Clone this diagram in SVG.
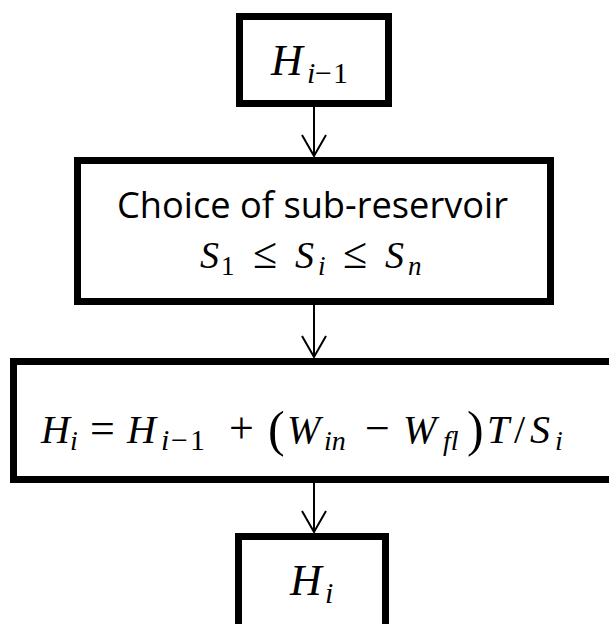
<svg xmlns="http://www.w3.org/2000/svg" width="609" height="624" viewBox="0 0 609 624">
<style>
.box{fill:#fff;stroke:#000;stroke-width:7}
.math{font-family:"Liberation Serif","DejaVu Serif",serif;font-style:italic;fill:#000}
.up{font-style:normal}
.lbl{font-family:"Open Sans","Liberation Sans",sans-serif;fill:#000}
.conn{stroke:#000;stroke-width:2;fill:none}
</style>
<defs>
<marker id="vee" markerUnits="userSpaceOnUse" markerWidth="28" markerHeight="30" viewBox="-25 -15 28 30" refX="0" refY="0" orient="auto">
<path d="M-21,-12 L0,0 L-21,12" fill="none" stroke="#000" stroke-width="2"/>
</marker>
</defs>
<rect width="609" height="624" fill="#fff"/>
<g id="connectors">
<line class="conn" x1="314" y1="107" x2="314" y2="156" marker-end="url(#vee)"/>
<line class="conn" x1="314" y1="305" x2="314" y2="357" marker-end="url(#vee)"/>
<line class="conn" x1="314" y1="483" x2="314" y2="532" marker-end="url(#vee)"/>
</g>
<g id="node-h-prev">
<rect class="box" x="239.5" y="16.5" width="149" height="87"/>
<text class="math" font-size="44"><tspan x="271" y="75">H</tspan><tspan x="307" y="83" font-size="30">i</tspan><tspan class="up" x="315" y="83" font-size="30">−</tspan><tspan class="up" x="333" y="83" font-size="30">1</tspan></text>
</g>
<g id="node-choice">
<rect class="box" x="77.5" y="160.5" width="473" height="141"/>
<text class="lbl" x="117" y="218" font-size="37" textLength="391" lengthAdjust="spacingAndGlyphs">Choice of sub-reservoir</text>
<text class="math" font-size="38"><tspan x="200" y="268">S</tspan><tspan class="up" x="221" y="275" font-size="27">1</tspan><tspan class="up" x="253" y="268" font-size="44">≤</tspan><tspan x="295" y="268">S</tspan><tspan x="318" y="275" font-size="27">i</tspan><tspan class="up" x="343" y="268" font-size="44">≤</tspan><tspan x="385" y="268">S</tspan><tspan x="408" y="275" font-size="27">n</tspan></text>
</g>
<g id="node-update">
<rect class="box" x="13.5" y="361.5" width="601" height="118"/>
<text class="math" font-size="40"><tspan x="41" y="443">H</tspan><tspan x="70" y="450" font-size="28">i</tspan><tspan class="up" x="90" y="443" font-size="44">=</tspan><tspan x="127" y="443">H</tspan><tspan x="161" y="450" font-size="30">i</tspan><tspan class="up" x="171" y="450" font-size="30">−</tspan><tspan class="up" x="190" y="450" font-size="30">1</tspan><tspan class="up" x="229" y="443" font-size="44">+</tspan><tspan class="up" x="268" y="446" font-size="50">(</tspan><tspan x="287" y="443">W</tspan><tspan x="324" y="450" font-size="28">in</tspan><tspan class="up" x="365" y="443" font-size="44">−</tspan><tspan x="403" y="443">W</tspan><tspan x="443" y="450" font-size="28">fl</tspan><tspan class="up" x="467" y="446" font-size="50">)</tspan><tspan x="487" y="443">T</tspan><tspan class="up" x="514" y="443">/</tspan><tspan x="530" y="443">S</tspan><tspan x="555" y="450" font-size="28">i</tspan></text>
</g>
<g id="node-h">
<rect class="box" x="238.5" y="536.5" width="147" height="95"/>
<text class="math" font-size="44"><tspan x="290" y="595">H</tspan><tspan x="325" y="603" font-size="30">i</tspan></text>
</g>
</svg>
